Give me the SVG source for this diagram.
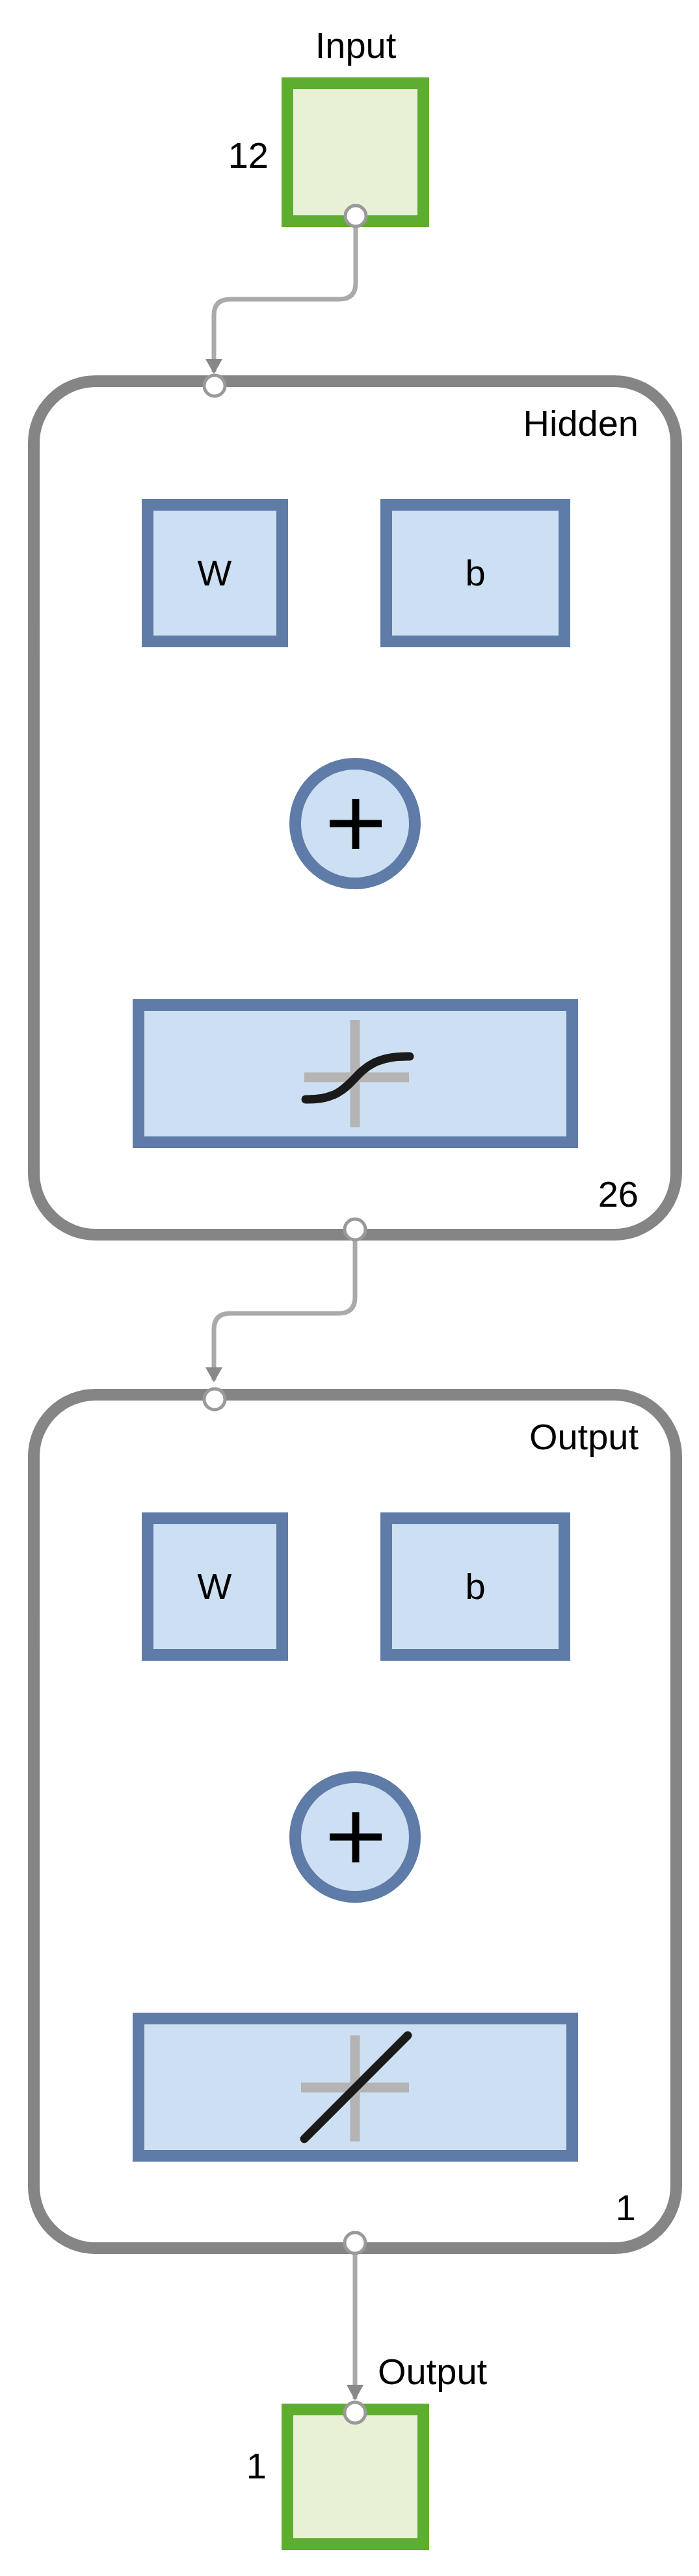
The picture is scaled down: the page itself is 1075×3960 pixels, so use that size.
<svg xmlns="http://www.w3.org/2000/svg" width="1075" height="3960" viewBox="0 0 1075 3960">
<style>
text{font-family:"Liberation Sans",Arial,sans-serif;font-size:56px;fill:#000}
.io{fill:#e8f1d5;stroke:#5dad2f;stroke-width:18}
.layer{fill:#fff;stroke:#858585;stroke-width:18}
.blk{fill:#cddff2;stroke:#5f7ba8;stroke-width:18}
.con{fill:none;stroke:#aaa;stroke-width:7}
.port{fill:#fff;stroke:#999;stroke-width:5}
.ax{stroke:#b4b4b4;stroke-width:15}
.fn{fill:none;stroke:#1a1a1a;stroke-width:13;stroke-linecap:round}
.plus{stroke:#000;stroke-width:11}
</style>
<defs>
<marker id="ar" markerUnits="userSpaceOnUse" markerWidth="28" markerHeight="22" refX="14" refY="20" orient="auto-start-reverse" viewBox="0 0 28 22">
<path d="M0 0 L28 0 L14 22 Z" fill="#888" transform="rotate(0)"/>
</marker>
</defs>
<g id="connectors">
<path class="con" d="M547 340 V435 Q547 460 522 460 H354 Q329 460 329 485 V572"/>
<path d="M316 552 H342 L329 575 Z" fill="#888"/>
<path class="con" d="M330 593 V767"/>
<path class="con" d="M330 995 V1048 Q330 1073 355 1073 H520 Q546 1073 546 1098 M731 995 V1048 Q731 1073 706 1073 H572 Q546 1073 546 1098 V1163"/>
<path class="con" d="M546 1369 V1536 M546 1765 V1890"/>
<path class="con" d="M546 1906 V1994 Q546 2019 521 2019 H354 Q329 2019 329 2044 V2122"/>
<path d="M316 2102 H342 L329 2125 Z" fill="#888"/>
<path class="con" d="M330 2151 V2325"/>
<path class="con" d="M330 2553 V2606 Q330 2631 355 2631 H520 Q546 2631 546 2656 M731 2553 V2606 Q731 2631 706 2631 H572 Q546 2631 546 2656 V2721"/>
<path class="con" d="M546 2927 V3094 M546 3323 V3448"/>
<path class="con" d="M546 3464 V3688"/>
<path d="M533 3666 H559 L546 3690 Z" fill="#888"/>
</g>
<g id="input">
<text x="547" y="89" text-anchor="middle">Input</text>
<rect class="io" x="442" y="128" width="209" height="212"/>
<text x="413" y="258" text-anchor="end">12</text>
<circle class="port" cx="547" cy="332" r="16"/>
</g>
<g id="hidden">
<rect class="layer" x="52" y="586" width="988" height="1312" rx="95"/>
<text x="982" y="670" text-anchor="end">Hidden</text>
<text x="982" y="1855" text-anchor="end">26</text>
<circle class="port" cx="330" cy="593" r="16"/>
<circle class="port" cx="546" cy="1890" r="16"/>
</g>
<g id="hidden-W"><rect class="blk" x="227" y="776" width="207" height="210"/><text x="330" y="900" text-anchor="middle">W</text></g>
<g id="hidden-b"><rect class="blk" x="594" y="776" width="274" height="210"/><text x="731" y="900" text-anchor="middle">b</text></g>
<g id="hidden-sum"><circle class="blk" cx="546" cy="1266" r="92" stroke-width="15"/><path class="plus" d="M507 1266 H587 M547 1228 V1305"/></g>
<g id="hidden-tf"><rect class="blk" x="213" y="1545" width="667" height="211"/><path class="ax" d="M546 1568 V1733 M468 1656 H629"/><path class="fn" d="M470 1690 C560 1692 530 1622 630 1624"/></g>
<g id="output-layer">
<rect class="layer" x="52" y="2144" width="988" height="1312" rx="95"/>
<text x="982" y="2228" text-anchor="end">Output</text>
<text x="978" y="3413" text-anchor="end">1</text>
<circle class="port" cx="330" cy="2151" r="16"/>
<circle class="port" cx="546" cy="3448" r="16"/>
</g>
<g id="output-W"><rect class="blk" x="227" y="2334" width="207" height="210"/><text x="330" y="2458" text-anchor="middle">W</text></g>
<g id="output-b"><rect class="blk" x="594" y="2334" width="274" height="210"/><text x="731" y="2458" text-anchor="middle">b</text></g>
<g id="output-sum"><circle class="blk" cx="546" cy="2824" r="92" stroke-width="15"/><path class="plus" d="M507 2824 H587 M547 2786 V2863"/></g>
<g id="output-tf"><rect class="blk" x="213" y="3103" width="667" height="211"/><path class="ax" d="M546 3129 V3292 M463 3209 H629"/><path class="fn" d="M468 3288 L627 3129"/></g>
<g id="output">
<text x="581" y="3665">Output</text>
<rect class="io" x="442" y="3704" width="209" height="207"/>
<text x="410" y="3810" text-anchor="end">1</text>
<circle class="port" cx="546" cy="3709" r="16"/>
</g>
</svg>
